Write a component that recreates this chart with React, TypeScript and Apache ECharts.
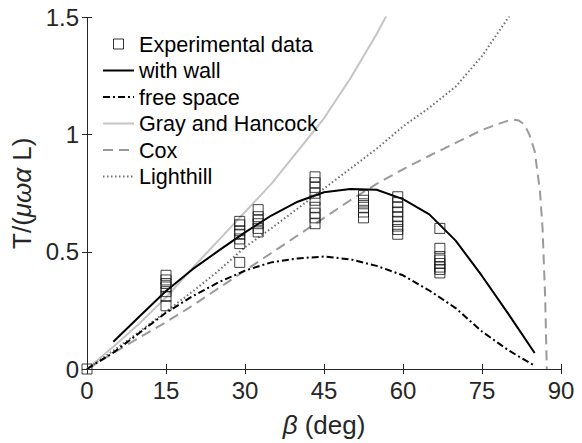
import React, { useEffect, useRef } from "react";
import * as echarts from "echarts";

// ---- Data ----
const xTicks = [0, 15, 30, 45, 60, 75, 90];
const yTicks = [0, 0.5, 1, 1.5];

// Experimental data: clusters of measurements at each angle
const expAngles = [0, 15, 29, 32.5, 43.3, 52.5, 59, 67];
const expValues: number[][] = [
  [0],
  [0.4, 0.38, 0.365, 0.35, 0.33, 0.31, 0.27],
  [0.63, 0.615, 0.59, 0.575, 0.555, 0.535, 0.455],
  [0.68, 0.65, 0.635, 0.62, 0.6, 0.585],
  [0.82, 0.795, 0.775, 0.75, 0.72, 0.69, 0.665, 0.645, 0.62],
  [0.74, 0.72, 0.705, 0.69, 0.67, 0.645],
  [0.735, 0.71, 0.69, 0.67, 0.65, 0.63, 0.61, 0.595, 0.575],
  [0.6, 0.515, 0.48, 0.465, 0.45, 0.435, 0.425, 0.41],
];

const wallAngles = [5, 10, 15, 20, 25, 30, 35, 40, 45, 50, 55, 60, 65, 70, 75, 80, 85];
const wallT = [0.116, 0.225, 0.333, 0.425, 0.505, 0.583, 0.655, 0.714, 0.754, 0.768, 0.765, 0.725, 0.66, 0.548, 0.397, 0.235, 0.068];

const freeAngles = [0, 5, 10, 15, 20, 25, 30, 35, 40, 45, 50, 55, 60, 65, 70, 75, 80, 85];
const freeT = [0, 0.07, 0.155, 0.24, 0.31, 0.37, 0.42, 0.455, 0.472, 0.48, 0.468, 0.44, 0.4, 0.335, 0.26, 0.16, 0.08, 0.014];

const ghAngles = [0, 5, 10, 15, 20, 25, 30, 35, 40, 45, 50, 55, 60];
const ghT = [0, 0.095, 0.195, 0.305, 0.43, 0.55, 0.67, 0.79, 0.93, 1.07, 1.24, 1.43, 1.64];

const coxAngles = [0, 5, 10, 15, 20, 25, 30, 35, 40, 45, 50, 55, 60, 65, 70, 75, 78, 80, 81, 82, 83, 84, 85, 86, 86.5, 87, 87.3];
const coxT = [0, 0.068, 0.135, 0.2, 0.27, 0.345, 0.42, 0.495, 0.57, 0.645, 0.72, 0.79, 0.852, 0.91, 0.965, 1.02, 1.045, 1.06, 1.064, 1.06, 1.045, 1.0, 0.93, 0.76, 0.6, 0.3, 0];

const lhAngles = [0, 5, 10, 15, 20, 25, 30, 35, 40, 45, 50, 55, 60, 65, 70, 75, 80, 82];
const lhT = [0, 0.078, 0.16, 0.245, 0.33, 0.42, 0.52, 0.6, 0.685, 0.77, 0.855, 0.94, 1.035, 1.115, 1.205, 1.335, 1.5, 1.58];

const seriesNames = ["Experimental data", "with wall", "free space", "Gray and Hancock", "Cox", "Lighthill"];

const FONT = "Liberation Sans";
const AXIS_COLOR = "#262626";

function pairs(xs: number[], ys: number[]) {
  return xs.map((x, i) => [x, ys[i]]);
}

const hiddenSymbol = { color: "rgba(0,0,0,0)", borderColor: "rgba(0,0,0,0)", borderWidth: 0, opacity: 0 };

export default function App() {
  const ref = useRef<HTMLDivElement>(null);

  useEffect(() => {
    document.body.style.margin = "0";
    if (!ref.current) return;
    const chart = echarts.init(ref.current, null, { renderer: "svg" });

    const expData: number[][] = [];
    expAngles.forEach((a, i) => expValues[i].forEach((v) => expData.push([a, v])));

    const axisCommon = {
      type: "value" as const,
      axisLine: { show: true, lineStyle: { color: AXIS_COLOR, width: 1 } },
      axisTick: { show: true, inside: true, length: 5, lineStyle: { color: AXIS_COLOR } },
      splitLine: { show: false },
    };

    const nameStyle = {
      fontSize: 26,
      color: AXIS_COLOR,
      fontFamily: FONT,
      rich: {
        i: { fontSize: 26, fontStyle: "italic", fontFamily: FONT, color: AXIS_COLOR },
      },
    };

    chart.setOption({
      animation: false,
      backgroundColor: "#fff",
      grid: { left: 87, right: 21, top: 17.5, bottom: 73 },
      xAxis: [
        {
          ...axisCommon,
          min: xTicks[0],
          max: xTicks[xTicks.length - 1],
          interval: 15,
          position: "bottom",
          axisLabel: { show: true, fontSize: 24, color: AXIS_COLOR, fontFamily: FONT, margin: 9 },
          name: "{i|β} (deg)",
          nameLocation: "middle",
          nameGap: 43,
          nameTextStyle: nameStyle,
        },
        {
          ...axisCommon,
          min: xTicks[0],
          max: xTicks[xTicks.length - 1],
          interval: 15,
          position: "top",
          axisLabel: { show: false },
        },
      ],
      yAxis: [
        {
          ...axisCommon,
          min: yTicks[0],
          max: yTicks[yTicks.length - 1],
          interval: 0.5,
          position: "left",
          axisLabel: { show: true, fontSize: 24, color: AXIS_COLOR, fontFamily: FONT, margin: 8 },
          name: "T/({i|μωα} L)",
          nameLocation: "middle",
          nameRotate: 90,
          nameGap: 32,
          nameTextStyle: nameStyle,
        },
        {
          ...axisCommon,
          min: yTicks[0],
          max: yTicks[yTicks.length - 1],
          interval: 0.5,
          position: "right",
          axisLabel: { show: false },
        },
      ],
      legend: {
        orient: "vertical",
        left: 102,
        top: 33,
        padding: 0,
        itemWidth: 31,
        itemHeight: 10,
        itemGap: 4.5,
        textStyle: { fontSize: 21.6, color: "#000", fontFamily: FONT, lineHeight: 22 },
        selectedMode: false,
        data: [
          {
            name: seriesNames[0],
            icon: "path://M0,0L10,0L10,10L0,10Z",
            itemStyle: { color: "rgba(0,0,0,0)", borderColor: "#000", borderWidth: 1 },
          },
          { name: seriesNames[1], itemStyle: hiddenSymbol },
          { name: seriesNames[2], itemStyle: hiddenSymbol },
          { name: seriesNames[3], itemStyle: hiddenSymbol },
          { name: seriesNames[4], itemStyle: hiddenSymbol },
          { name: seriesNames[5], itemStyle: hiddenSymbol },
        ],
      },
      series: [
        {
          name: seriesNames[1],
          type: "line",
          data: pairs(wallAngles, wallT),
          symbol: "none",
          lineStyle: { color: "#000", width: 2, type: "solid" },
          itemStyle: { color: "#000" },
          z: 3,
        },
        {
          name: seriesNames[2],
          type: "line",
          data: pairs(freeAngles, freeT),
          symbol: "none",
          lineStyle: { color: "#000", width: 2, type: [7, 3, 2, 3] },
          itemStyle: { color: "#000" },
          z: 3,
        },
        {
          name: seriesNames[3],
          type: "line",
          data: pairs(ghAngles, ghT),
          symbol: "none",
          lineStyle: { color: "#c4c4c4", width: 2, type: "solid" },
          itemStyle: { color: "#c4c4c4" },
          z: 2,
        },
        {
          name: seriesNames[4],
          type: "line",
          data: pairs(coxAngles, coxT),
          symbol: "none",
          lineStyle: { color: "#9a9a9a", width: 2, type: [10, 6] },
          itemStyle: { color: "#9a9a9a" },
          z: 2,
        },
        {
          name: seriesNames[5],
          type: "line",
          data: pairs(lhAngles, lhT),
          symbol: "none",
          lineStyle: { color: "#6e6e6e", width: 2, type: [1.5, 2.5] },
          itemStyle: { color: "#6e6e6e" },
          z: 2,
        },
        {
          name: seriesNames[0],
          type: "scatter",
          data: expData,
          symbol: "rect",
          symbolSize: 10,
          itemStyle: { color: "rgba(0,0,0,0)", borderColor: "#111", borderWidth: 1 },
          z: 4,
        },
      ],
    });

    return () => chart.dispose();
  }, []);

  return <div ref={ref} style={{ width: 582, height: 443 }} />;
}
